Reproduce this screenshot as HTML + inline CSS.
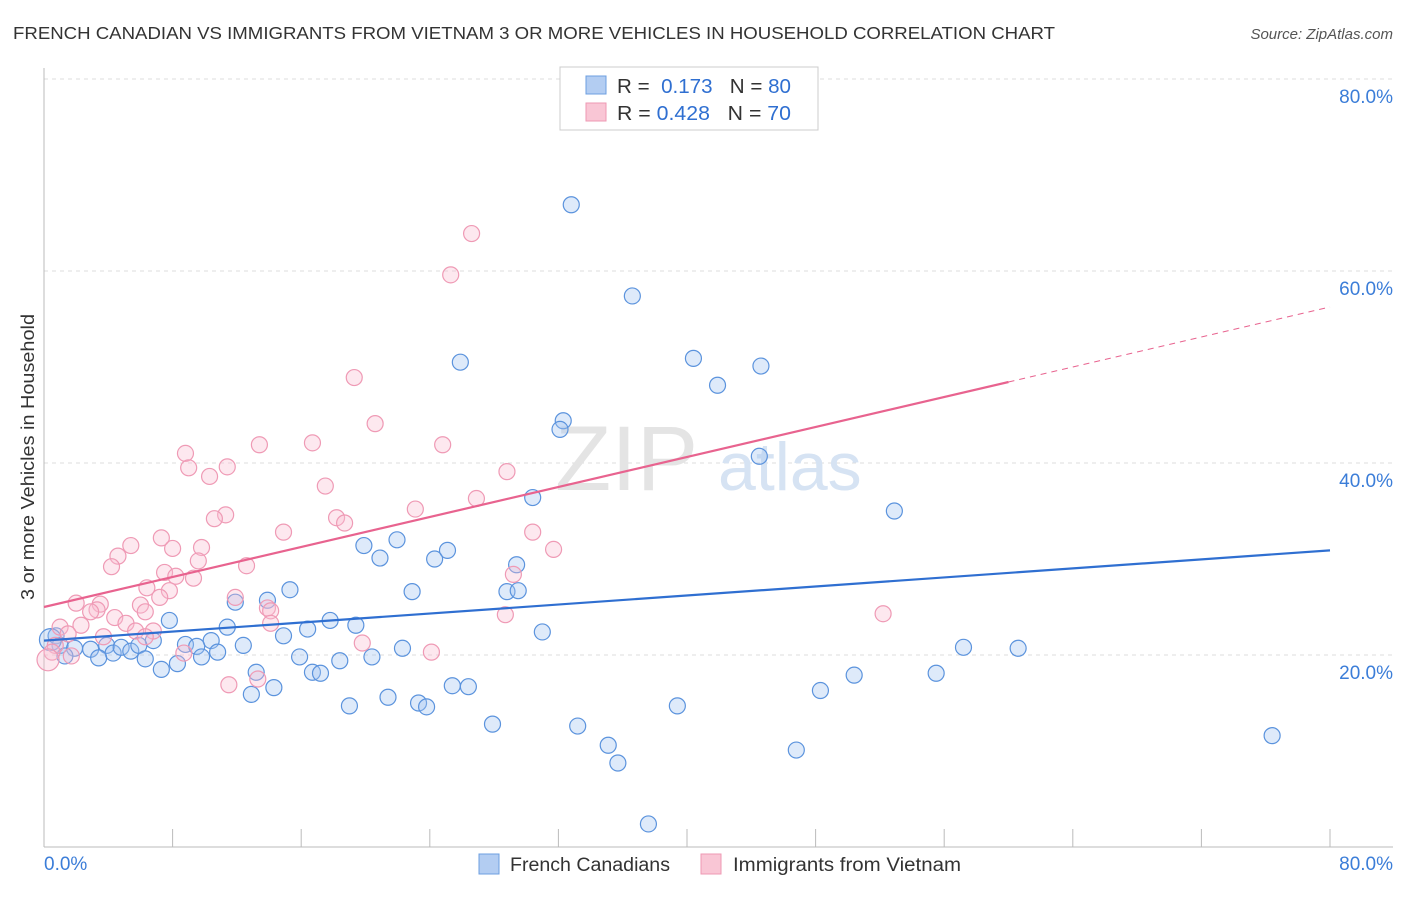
<!DOCTYPE html>
<html><head><meta charset="utf-8"><style>
body{margin:0;background:#fff;font-family:"Liberation Sans",sans-serif;}
svg text{font-family:"Liberation Sans",sans-serif;}
</style></head><body>
<svg id="chart" width="1406" height="892" viewBox="0 0 1406 892" xmlns="http://www.w3.org/2000/svg">
<text x="13" y="39" font-size="17.5" fill="#333" textLength="1042" lengthAdjust="spacingAndGlyphs">FRENCH CANADIAN VS IMMIGRANTS FROM VIETNAM 3 OR MORE VEHICLES IN HOUSEHOLD CORRELATION CHART</text>
<text x="1393" y="39" font-size="15" fill="#555" text-anchor="end" font-style="italic">Source: ZipAtlas.com</text>
<g id="grid"></g>
<g><text x="555" y="490" font-size="92" fill="#e4e4e4" font-family="Liberation Serif">ZIP</text><text x="718" y="490" font-size="68" fill="#d6e3f3">atlas</text></g>
<g id="axes"></g>
<g id="pts"></g>
<g id="lines"></g>
<text transform="translate(34,457) rotate(-90)" font-size="18" fill="#333" text-anchor="middle" textLength="286" lengthAdjust="spacingAndGlyphs">3 or more Vehicles in Household</text>
<g>
<rect x="560" y="67" width="258" height="63" fill="#fff" stroke="#ccc"/>
<rect x="586" y="76" width="20" height="18" fill="#b3cdf2" stroke="#6d9fe0"/>
<rect x="586" y="103" width="20" height="18" fill="#f9c6d5" stroke="#ee98b3"/>
<text x="617" y="93" font-size="20" fill="#333" textLength="174" lengthAdjust="spacingAndGlyphs">R = <tspan fill="#2f6fd1">&#160;0.173</tspan>&#160;&#160;&#160;N = <tspan fill="#2f6fd1">80</tspan></text>
<text x="617" y="120" font-size="20" fill="#333" textLength="174" lengthAdjust="spacingAndGlyphs">R = <tspan fill="#2f6fd1">0.428</tspan>&#160;&#160;&#160;N = <tspan fill="#2f6fd1">70</tspan></text>
</g>
<g>
<rect x="479" y="854" width="20" height="20" fill="#b3cdf2" stroke="#6d9fe0"/>
<text x="510" y="871" font-size="19" fill="#333" textLength="160" lengthAdjust="spacingAndGlyphs">French Canadians</text>
<rect x="701" y="854" width="20" height="20" fill="#f9c6d5" stroke="#ee98b3"/>
<text x="733" y="871" font-size="19" fill="#333" textLength="228" lengthAdjust="spacingAndGlyphs">Immigrants from Vietnam</text>
</g>
</svg>
<script>
const yTicks=[20,40,60,80];
const blueX=[32.8,36.6,25.9,40.4,41.9,44.6,32.3,32.1,44.5,30.4,52.9,19.9,21.96,20.9,24.3,25.1,29.4,15.3,22.9,28.8,29.5,11.9,13.9,7.8,11.4,17.8,19.4,16.4,14.9,31.0,6.8,8.8,10.4,9.5,12.4,22.3,57.2,60.6,0.75,1.0,1.9,2.9,3.9,4.3,4.8,5.4,5.9,3.4,6.3,9.8,10.8,15.9,18.4,20.4,1.3,8.3,7.3,13.2,16.7,17.2,25.4,26.4,14.3,12.9,21.4,23.3,23.8,19.0,27.9,33.2,39.4,48.3,50.4,55.5,35.1,35.7,46.8,37.6,76.4,0.4];
const blueY=[66.9,57.4,50.5,50.9,48.1,50.1,44.4,43.5,40.7,36.4,35.0,31.4,32.0,30.1,30.0,30.9,29.4,26.8,26.6,26.6,26.7,25.5,25.7,23.6,22.9,23.6,23.1,22.7,22.0,22.4,21.5,21.1,21.5,20.9,21.0,20.7,20.8,20.7,22.0,21.0,20.7,20.6,21.0,20.2,20.8,20.4,21.0,19.7,19.6,19.8,20.3,19.8,19.4,19.8,19.9,19.1,18.5,18.2,18.2,18.1,16.8,16.7,16.6,15.9,15.6,15.0,14.6,14.7,12.8,12.6,14.7,16.3,17.9,18.1,10.6,8.75,10.1,2.4,11.6,21.6];
const pinkX=[26.6,25.3,19.3,20.6,13.4,16.7,24.8,8.8,9.0,11.4,28.8,10.3,17.5,26.9,23.1,11.3,10.6,18.2,18.7,14.9,30.4,7.3,5.4,9.8,8.0,31.7,4.6,9.6,12.6,4.2,7.5,8.2,9.3,29.2,6.4,7.8,7.2,11.9,2.0,3.5,6.0,3.3,13.9,14.1,2.9,6.3,52.2,28.7,4.4,5.1,14.1,2.3,1.0,5.7,6.8,1.5,3.7,19.8,0.7,0.5,24.1,8.7,1.7,0.25,11.5,13.3,6.3];
const pinkY=[63.9,59.6,48.9,44.1,41.9,42.1,41.9,41.0,39.5,39.6,39.1,38.6,37.6,36.3,35.2,34.6,34.2,34.3,33.75,32.8,32.8,32.2,31.4,31.2,31.1,31.0,30.3,29.8,29.3,29.2,28.6,28.2,28.0,28.4,27.0,26.7,26.0,26.0,25.4,25.3,25.2,24.7,24.9,24.6,24.5,24.5,24.3,24.2,23.9,23.3,23.3,23.1,22.9,22.5,22.5,22.2,21.9,21.25,21.0,20.3,20.3,20.2,19.9,19.5,16.9,17.5,21.9];
const blueTrend=[21.5,30.9];
const pinkTrend=[25.0,56.25];
const pinkSolidEnd=60;
const X=v=>44+v*16.075, Y=v=>847-v*9.6;
const NS="http://www.w3.org/2000/svg";
function mk(parent,tag,attrs){const e=document.createElementNS(NS,tag);for(const k in attrs)e.setAttribute(k,attrs[k]);document.getElementById(parent).appendChild(e);return e;}
for(const t of yTicks){
 const g=mk('grid','line',{x1:44,x2:1393,y1:Y(t),y2:Y(t),stroke:'#dcdcdc','stroke-dasharray':'4,4'});
 
 
 const l=mk('axes','text',{x:1393,y:Y(t)+24,'font-size':19,fill:'#3b7dd8','text-anchor':'end'});
 l.textContent=t.toFixed(1)+'%';
 
 
}
mk('grid','line',{x1:44,x2:1393,y1:79,y2:79,stroke:'#dcdcdc','stroke-dasharray':'4,4'});
mk('axes','line',{x1:44,x2:44,y1:68,y2:847,stroke:'#bbb'});
mk('axes','line',{x1:44,x2:1393,y1:847,y2:847,stroke:'#bbb'});
for(let i=0;i<=10;i++){mk('axes','line',{x1:X(i*8),x2:X(i*8),y1:829,y2:847,stroke:'#bbb'});}
let t0=mk('axes','text',{x:44,y:870,'font-size':19,fill:'#3b7dd8'});t0.textContent='0.0%';


let t1=mk('axes','text',{x:1393,y:870,'font-size':19,fill:'#3b7dd8','text-anchor':'end'});t1.textContent='80.0%';


blueX.forEach((x,i)=>{const c=mk('pts','circle',{cx:X(x),cy:Y(blueY[i]),r:i==blueX.length-1?11:8,fill:'rgba(160,195,240,0.35)',stroke:'#5b93dd','stroke-width':1.2});
 
 });
pinkX.forEach((x,i)=>{const c=mk('pts','circle',{cx:X(x),cy:Y(pinkY[i]),r:i==63?11:8,fill:'rgba(248,190,208,0.35)',stroke:'#ef9ab5','stroke-width':1.2});
 
 });
const bl=mk('lines','line',{x1:X(0),y1:Y(blueTrend[0]),x2:X(80),y2:Y(blueTrend[1]),stroke:'#2f6fd1','stroke-width':2.2});


const py=v=>pinkTrend[0]+(pinkTrend[1]-pinkTrend[0])*v/80;
const pl=mk('lines','line',{x1:X(0),y1:Y(py(0)),x2:X(pinkSolidEnd),y2:Y(py(pinkSolidEnd)),stroke:'#e8638f','stroke-width':2.2});


const pd=mk('lines','line',{x1:X(pinkSolidEnd),y1:Y(py(pinkSolidEnd)),x2:X(80),y2:Y(py(80)),stroke:'#e8638f','stroke-width':1,'stroke-dasharray':'6,5'});


</script>
</body></html>
